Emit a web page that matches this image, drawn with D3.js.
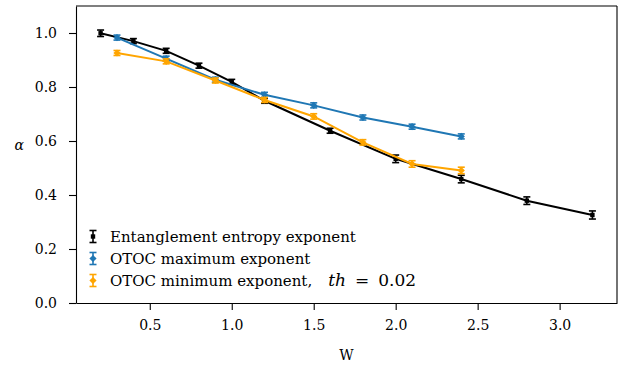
<!DOCTYPE html>
<html>
<head>
<meta charset="utf-8">
<script src="https://cdn.jsdelivr.net/npm/d3@7"></script>
<style>
  body { margin: 0; background: #fff; }
  .axis text { font-family: "DejaVu Serif", serif; font-size: 14px; fill: #000; }
  .axis path, .axis line { stroke: #000; stroke-width: 1.1; }
  .lbl { font-family: "DejaVu Serif", serif; font-size: 14px; fill: #000; }
  .leg { font-family: "DejaVu Serif", serif; font-size: 15px; fill: #000; }
</style>
</head>
<body>
<div id="chart"></div>
<script>
// Entanglement entropy exponent
var entW = [0.2, 0.4, 0.6, 0.8, 1.0, 1.2, 1.6, 2.0, 2.4, 2.8, 3.2];
var entAlpha = [0.999, 0.970, 0.934, 0.879, 0.819, 0.749, 0.638, 0.534, 0.459, 0.379, 0.326];
var entErr = [0.012, 0.005, 0.005, 0.005, 0.006, 0.006, 0.009, 0.014, 0.014, 0.014, 0.015];

// OTOC maximum exponent
var maxW = [0.3, 0.6, 0.9, 1.2, 1.5, 1.8, 2.1, 2.4];
var maxAlpha = [0.983, 0.905, 0.827, 0.771, 0.732, 0.687, 0.653, 0.617];
var maxErr = [0.004, 0.004, 0.004, 0.004, 0.004, 0.004, 0.004, 0.004];

// OTOC minimum exponent, th = 0.02
var minW = [0.3, 0.6, 0.9, 1.2, 1.5, 1.8, 2.1, 2.4];
var minAlpha = [0.926, 0.895, 0.824, 0.752, 0.691, 0.595, 0.515, 0.491];
var minErr = [0.004, 0.006, 0.004, 0.007, 0.010, 0.010, 0.012, 0.012];

var xTicks = [0.5, 1.0, 1.5, 2.0, 2.5, 3.0];
var yTicks = [0.0, 0.2, 0.4, 0.6, 0.8, 1.0];

var margin = { top: 6, right: 18, bottom: 64, left: 76 },
  width = 635 - margin.left - margin.right,
  height = 367 - margin.top - margin.bottom;

var x = d3.scaleLinear().domain([0.05, 3.35]).range([0, width]);
var y = d3.scaleLinear().domain([0, 1.1]).range([height, 0]);

var svg = d3.select("#chart")
  .append("svg")
  .attr("width", 635)
  .attr("height", 367)
  .append("g")
  .attr("transform", "translate(" + margin.left + "," + margin.top + ")");

var series = [
  { name: "Entanglement entropy exponent", xs: entW, ys: entAlpha, err: entErr, color: "#000000", marker: "square" },
  { name: "OTOC maximum exponent", xs: maxW, ys: maxAlpha, err: maxErr, color: "#1f77b4", marker: "diamond" },
  { name: "OTOC minimum exponent,", xs: minW, ys: minAlpha, err: minErr, color: "#ffa500", marker: "diamond" }
];

var line = d3.line()
  .x(function (d) { return x(d.x); })
  .y(function (d) { return y(d.y); });

function drawMarker(g, type, color) {
  if (type === "square") {
    g.append("rect").attr("x", -2.2).attr("y", -2.2).attr("width", 4.4).attr("height", 4.4).attr("fill", color);
  } else {
    g.append("path").attr("d", "M0,-3.6L3.6,0L0,3.6L-3.6,0Z").attr("fill", color);
  }
}

function drawErr(g, h, color) {
  g.append("line").attr("y1", -h).attr("y2", h).attr("stroke", color).attr("stroke-width", 1.6);
  g.append("line").attr("x1", -3.5).attr("x2", 3.5).attr("y1", -h).attr("y2", -h).attr("stroke", color).attr("stroke-width", 1.6);
  g.append("line").attr("x1", -3.5).attr("x2", 3.5).attr("y1", h).attr("y2", h).attr("stroke", color).attr("stroke-width", 1.6);
}

series.forEach(function (s) {
  var pts = s.xs.map(function (v, i) { return { x: v, y: s.ys[i], e: s.err[i] }; });

  svg.append("path")
    .datum(pts)
    .attr("fill", "none")
    .attr("stroke", s.color)
    .attr("stroke-width", 2)
    .attr("d", line);

  pts.forEach(function (p) {
    var g = svg.append("g").attr("transform", "translate(" + x(p.x) + "," + y(p.y) + ")");
    var h = Math.max(y(p.y) - y(p.y + p.e), 2.5);
    drawErr(g, h, s.color);
    drawMarker(g, s.marker, s.color);
  });
});

// Axes
svg.append("g")
  .attr("class", "x axis")
  .attr("transform", "translate(0," + height + ")")
  .call(d3.axisBottom(x).tickValues(xTicks).tickFormat(d3.format(".1f")).tickSize(7).tickSizeOuter(0).tickPadding(10));

svg.append("g")
  .attr("class", "y axis")
  .call(d3.axisLeft(y).tickValues(yTicks).tickFormat(d3.format(".1f")).tickSize(7).tickSizeOuter(0).tickPadding(12));

svg.append("line").attr("x1", 0).attr("x2", width).attr("y1", 0).attr("y2", 0).attr("stroke", "#000").attr("stroke-width", 1.1);
svg.append("line").attr("x1", width).attr("x2", width).attr("y1", 0).attr("y2", height).attr("stroke", "#000").attr("stroke-width", 1.1);

svg.append("text")
  .attr("class", "lbl")
  .attr("x", width / 2)
  .attr("y", height + 57)
  .attr("text-anchor", "middle")
  .text("W");

svg.append("text")
  .attr("class", "lbl")
  .attr("x", -52)
  .attr("y", y(0.6) + 9)
  .attr("text-anchor", "end")
  .style("font-style", "italic")
  .text("α");

// Legend
var legend = svg.append("g").attr("transform", "translate(17," + (y(0.25) + 1) + ")");
series.forEach(function (s, i) {
  var g = legend.append("g").attr("transform", "translate(0," + (i * 22) + ")");
  drawErr(g, 6, s.color);
  drawMarker(g, s.marker, s.color);
  var t = g.append("text")
    .attr("class", "leg")
    .attr("x", 17)
    .attr("y", 5);
  t.append("tspan").text(s.name);
  if (i === 2) {
    // math part is set wider, like LaTeX
    t.append("tspan").attr("dx", 16).style("font-style", "italic").style("font-size", "17px").text("th");
    t.append("tspan").attr("dx", 9).style("font-size", "17px").text("=");
    t.append("tspan").attr("dx", 9).style("font-size", "17px").text("0.02");
  }
});
</script>
</body>
</html>
